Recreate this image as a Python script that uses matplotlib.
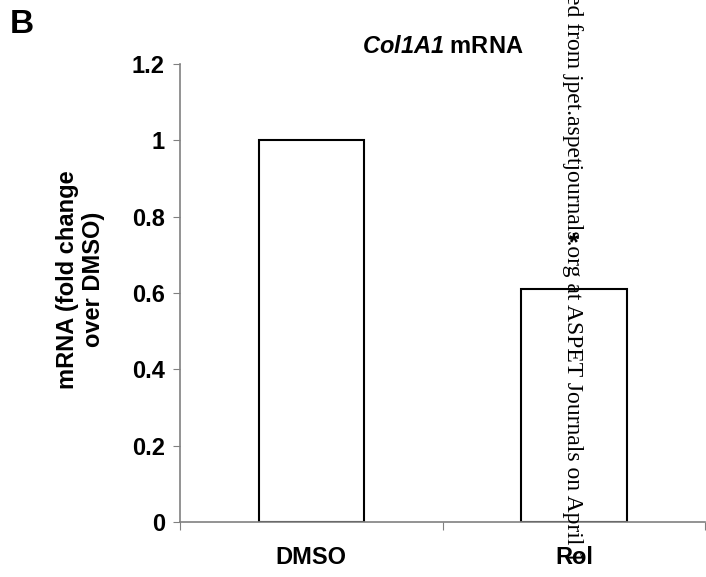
import numpy as np
import matplotlib.pyplot as plt

# data
categories = ["DMSO", "Rol"]
values = [1.0, 0.61]
star_y = 0.73
yticks = [0, 0.2, 0.4, 0.6, 0.8, 1.0, 1.2]
ytick_labels = ["0", "0.2", "0.4", "0.6", "0.8", "1", "1.2"]

plt.rcParams['font.family'] = ['Liberation Sans', 'DejaVu Sans']
plt.rcParams['mathtext.fontset'] = 'custom'
plt.rcParams['mathtext.it'] = 'Liberation Sans:italic:bold'
plt.rcParams['mathtext.rm'] = 'Liberation Sans:italic:bold'

fig = plt.figure(figsize=(7.06, 5.77), dpi=100)
ax = fig.add_axes([0.255, 0.0953, 0.744, 0.7937])

x = np.arange(len(categories))
ax.bar(x, values, width=0.4, color='white', edgecolor='black', linewidth=1.5, zorder=3)

ax.set_xlim(-0.5, 1.5)
ax.set_ylim(0, 1.2)
ax.set_yticks(yticks)
ax.set_yticklabels(ytick_labels, fontsize=17, fontweight='bold')

# boundary ticks (major, no label) and centered category labels (minor)
ax.set_xticks([-0.5, 0.5, 1.5])
ax.set_xticklabels([])
ax.set_xticks(x, minor=True)
ax.set_xticklabels(categories, minor=True, fontsize=17, fontweight='bold')
ax.tick_params(axis='x', which='minor', length=0, pad=17)
ax.tick_params(axis='x', which='major', length=6, direction='out', color='#808080')
ax.tick_params(axis='y', length=5, direction='out', color='#808080', pad=6)

for s in ['top', 'right']:
    ax.spines[s].set_visible(False)
for s in ['left', 'bottom']:
    ax.spines[s].set_color('#808080')
    ax.spines[s].set_linewidth(1.2)
ax.spines['bottom'].set_zorder(4)

ax.set_ylabel("mRNA (fold change\nover DMSO)", fontsize=17, fontweight='bold')
ax.yaxis.set_label_coords(-0.142, 0.53)
ax.set_title(r"$Col1A1$ mRNA", fontsize=17, fontweight='bold', pad=8)

ax.text(1, star_y, "*", ha='center', va='center', fontsize=18, fontweight='bold')

fig.text(0.014, 0.985, "B", fontsize=24, fontweight='bold', va='top', ha='left')

# watermark
fig.text(0.811, 1.01, "ed from jpet.aspetjournals.org at ASPET Journals on April 1",
         rotation=-90, va='top', ha='center', fontsize=17,
         family=['Liberation Serif'], color='black', zorder=10)

fig.savefig("out.png", dpi=100)
